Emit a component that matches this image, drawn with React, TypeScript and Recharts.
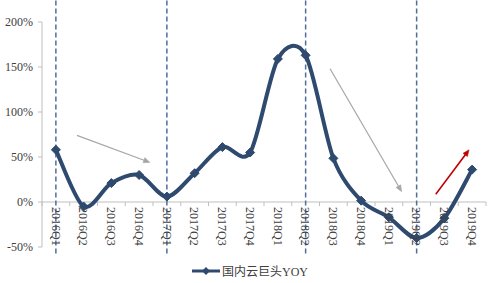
import React from 'react';
import { LineChart, Line, XAxis, YAxis, ReferenceLine, Legend } from 'recharts';

// ---- data ----
const CATEGORIES = [
  '2016Q1', '2016Q2', '2016Q3', '2016Q4',
  '2017Q1', '2017Q2', '2017Q3', '2017Q4',
  '2018Q1', '2018Q2', '2018Q3', '2018Q4',
  '2019Q1', '2019Q2', '2019Q3', '2019Q4',
];
const YOY = [58, -5, 21, 30, 6, 32, 61, 55, 159, 163, 48.5, 1.5, -17, -40, -18, 36];
const SERIES_NAME = '国内云巨头YOY';
const Y_TICKS = [-50, 0, 50, 100, 150, 200];
const DIVIDER_CATEGORIES = [0, 4, 9, 13]; // indices of dashed vertical lines
const DIVIDER_EXTENT = [224, -59];
// annotation arrows in data units: [x1, y1, x2, y2]
const GRAY_ARROWS = [
  [0.76, 74, 3.39, 44],
  [9.88, 148, 12.46, 11.5],
];
const RED_ARROWS = [[13.69, 8.5, 14.89, 58]];

// ---- layout / styles ----
const W = 500;
const H = 283;
const TOP = 22;
const PLOT_BOTTOM = 247;
const XAXIS_H = 1;
const Y_MIN = -50;
const Y_MAX = 200;
const ZERO_SHIFT = ((PLOT_BOTTOM - TOP) * (0 - Y_MIN)) / (Y_MAX - Y_MIN);
const NAVY = '#2E4A6E';
const AXIS = '#BFBFBF';
const TEXT = '#404040';
const DASH = '#4F6E9C';
const SERIF = '"Liberation Serif", "Times New Roman", "Noto Sans CJK SC", serif';
const TENSION = 0.15;

const data = CATEGORIES.map((c, i) => ({ idx: i, label: c, yoy: YOY[i] }));
const xTicks: number[] = [];
for (let i = -0.5; i <= CATEGORIES.length - 0.5 + 1e-9; i += 0.5) xTicks.push(i);

function smoothCurve(context: any) {
  let pts: number[][] = [];
  return {
    areaStart() {},
    areaEnd() {},
    lineStart() {
      pts = [];
    },
    lineEnd() {
      const n = pts.length;
      if (!n) return;
      context.moveTo(pts[0][0], pts[0][1]);
      for (let i = 0; i < n - 1; i++) {
        const p0 = pts[Math.max(0, i - 1)];
        const p1 = pts[i];
        const p2 = pts[i + 1];
        const p3 = pts[Math.min(n - 1, i + 2)];
        const t = TENSION;
        context.bezierCurveTo(
          p1[0] + (p2[0] - p0[0]) * t,
          p1[1] + (p2[1] - p0[1]) * t,
          p2[0] - (p3[0] - p1[0]) * t,
          p2[1] - (p3[1] - p1[1]) * t,
          p2[0],
          p2[1]
        );
      }
    },
    point(x: number, y: number) {
      pts.push([+x, +y]);
    },
  };
}

const XTick = (props: any) => {
  const { x, y, payload } = props;
  const v = payload.value;
  const zeroY = y - ZERO_SHIFT;
  if (Number.isInteger(v)) {
    return (
      <text
        x={0}
        y={0}
        transform={`translate(${x},${zeroY + 5}) rotate(90)`}
        dy="0.35em"
        textAnchor="start"
        fontSize={12}
        fill={TEXT}
        fontFamily={SERIF}
      >
        {CATEGORIES[v]}
      </text>
    );
  }
  return <line x1={x} x2={x} y1={zeroY} y2={zeroY + 4} stroke={AXIS} strokeWidth={1} />;
};

const Diamond = (p: any) => {
  const { cx, cy } = p;
  if (cx == null || cy == null) return <g />;
  const s = 4.5;
  return (
    <path
      d={`M${cx},${cy - s}L${cx + s},${cy}L${cx},${cy + s}L${cx - s},${cy}Z`}
      fill={NAVY}
      stroke={NAVY}
      strokeWidth={1}
    />
  );
};

const makeArrow = (color: string, width: number) => (p: any) => {
  const { x1, y1, x2, y2 } = p;
  const ang = Math.atan2(y2 - y1, x2 - x1);
  const L = 7;
  const a = 0.4;
  const ax = x2 - L * Math.cos(ang - a);
  const ay = y2 - L * Math.sin(ang - a);
  const bx = x2 - L * Math.cos(ang + a);
  const by = y2 - L * Math.sin(ang + a);
  const mx = x2 - L * 0.8 * Math.cos(ang);
  const my = y2 - L * 0.8 * Math.sin(ang);
  return (
    <g>
      <line x1={x1} y1={y1} x2={mx} y2={my} stroke={color} strokeWidth={width} />
      <path d={`M${x2},${y2}L${ax},${ay}L${bx},${by}Z`} fill={color} stroke={color} strokeWidth={0.5} />
    </g>
  );
};

const LegendContent = (props: any) => {
  const name = props.payload && props.payload[0] ? props.payload[0].value : SERIES_NAME;
  return (
    <div
      style={{
        display: 'flex',
        alignItems: 'center',
        justifyContent: 'center',
        fontFamily: SERIF,
        fontSize: 12,
        color: TEXT,
      }}
    >
      <svg width={28} height={10} style={{ marginRight: 2 }}>
        <line x1={0} y1={5} x2={28} y2={5} stroke={NAVY} strokeWidth={3} />
        <path d="M14,1L18,5L14,9L10,5Z" fill={NAVY} />
      </svg>
      <span>{name}</span>
    </div>
  );
};

export default function App() {
  return (
    <div style={{ position: 'absolute', left: 0, top: 0, width: W, height: H, background: '#fff' }}>
      <LineChart
        width={W}
        height={H}
        data={data}
        margin={{ top: TOP, right: 14, left: 0, bottom: H - PLOT_BOTTOM - XAXIS_H }}
      >
        <XAxis
          dataKey="idx"
          type="number"
          domain={[-0.5, CATEGORIES.length - 0.5]}
          ticks={xTicks}
          interval={0}
          tick={<XTick />}
          tickLine={false}
          axisLine={false}
          tickSize={0}
          tickMargin={0}
          height={XAXIS_H}
          allowDecimals
        />
        <YAxis
          domain={[Y_MIN, Y_MAX]}
          ticks={Y_TICKS}
          width={42}
          tickFormatter={(v: number) => `${v}%`}
          tick={{ fontSize: 12, fill: TEXT, fontFamily: SERIF }}
          axisLine={{ stroke: AXIS }}
          tickLine={{ stroke: AXIS }}
          tickSize={4}
          tickMargin={5}
          interval={0}
        />
        <ReferenceLine y={0} stroke={AXIS} strokeWidth={1} />
        {DIVIDER_CATEGORIES.map((i) => (
          <ReferenceLine
            key={`d${i}`}
            segment={[
              { x: i, y: DIVIDER_EXTENT[0] },
              { x: i, y: DIVIDER_EXTENT[1] },
            ]}
            ifOverflow="visible"
            stroke={DASH}
            strokeWidth={1.5}
            strokeDasharray="5 3"
          />
        ))}
        {GRAY_ARROWS.map((a, k) => (
          <ReferenceLine
            key={`g${k}`}
            segment={[
              { x: a[0], y: a[1] },
              { x: a[2], y: a[3] },
            ]}
            ifOverflow="visible"
            shape={makeArrow('#A6A6A6', 1.2)}
          />
        ))}
        {RED_ARROWS.map((a, k) => (
          <ReferenceLine
            key={`r${k}`}
            segment={[
              { x: a[0], y: a[1] },
              { x: a[2], y: a[3] },
            ]}
            ifOverflow="visible"
            shape={makeArrow('#C00000', 1.6)}
          />
        ))}
        <Line
          dataKey="yoy"
          name={SERIES_NAME}
          type={smoothCurve as any}
          stroke={NAVY}
          strokeWidth={4}
          dot={<Diamond />}
          activeDot={false}
          isAnimationActive={false}
        />
        <Legend
          layout="horizontal"
          verticalAlign="middle"
          align="center"
          wrapperStyle={{ top: 262, left: 0, width: W }}
          content={<LegendContent />}
        />
      </LineChart>
    </div>
  );
}
